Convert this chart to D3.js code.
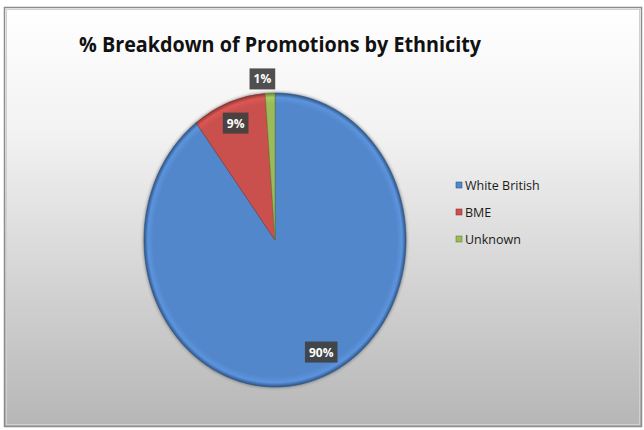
<!DOCTYPE html>
<html><head><meta charset="utf-8">
<script src="https://cdn.jsdelivr.net/npm/d3@7"></script>
<style>body{margin:0;background:#fff}</style>
</head><body>
<script>
const categories = ["White British", "BME", "Unknown"];
const values = [89.7, 9.1, 1.2];
const labels = ["90%", "9%", "1%"];
const colors = ["#5387cb", "#c9504d", "#9bbb59"];
const darkColors = ["#2f5587", "#8c3533", "#66802f"];

const W = 644, H = 430;
const svg = d3.select("body").append("svg").attr("width", W).attr("height", H);
const defs = svg.append("defs");
const bg = defs.append("linearGradient").attr("id","bg").attr("x1",0).attr("y1",0).attr("x2",0).attr("y2",1);
bg.append("stop").attr("offset","0%").attr("stop-color","#ffffff");
bg.append("stop").attr("offset","30%").attr("stop-color","#f2f2f2");
bg.append("stop").attr("offset","100%").attr("stop-color","#b6b6b6");

svg.append("rect").attr("x",0).attr("y",0).attr("width",W).attr("height",H).attr("fill","#fff");
svg.append("rect").attr("x",4.5).attr("y",7.5).attr("width",637).attr("height",419)
  .attr("fill","url(#bg)").attr("stroke","#8c8c8c").attr("stroke-width",1.5);
svg.append("rect").attr("x",6.5).attr("y",9.5).attr("width",633).attr("height",415)
  .attr("fill","none").attr("stroke","#d0d0d0").attr("stroke-width",1);

svg.append("text").attr("x",280).attr("y",52).attr("text-anchor","middle")
  .attr("font-family","Open Sans, sans-serif").attr("font-weight","bold").attr("font-size",22)
  .attr("fill","#111").attr("textLength",402).attr("lengthAdjust","spacingAndGlyphs")
  .text("% Breakdown of Promotions by Ethnicity");

const cx = 275, cy = 240, rx = 131, ry = 147;

colors.forEach((c,i)=>{
  const g = defs.append("radialGradient").attr("id","g"+i).attr("gradientUnits","userSpaceOnUse")
    .attr("cx",0).attr("cy",0).attr("r",rx);
  g.append("stop").attr("offset","0%").attr("stop-color",c);
  g.append("stop").attr("offset","93%").attr("stop-color",c);
  g.append("stop").attr("offset","97%").attr("stop-color",d3.color(c).brighter(0.25));
  g.append("stop").attr("offset","100%").attr("stop-color",darkColors[i]);
});
const blur = defs.append("filter").attr("id","sh").attr("x","-10%").attr("y","-10%").attr("width","120%").attr("height","120%");
blur.append("feGaussianBlur").attr("stdDeviation",1.5);

const pie = d3.pie().sort(null).value(d=>d)(values);
const arc = d3.arc().innerRadius(0).outerRadius(rx);
const pg = svg.append("g").attr("transform",`translate(${cx},${cy}) scale(1,${ry/rx})`);
pg.append("ellipse").attr("cx",0).attr("cy",0).attr("rx",rx+1).attr("ry",rx+1)
  .attr("fill","#333").attr("opacity",0.45).attr("filter","url(#sh)");
pg.selectAll("path.s").data(pie).join("path").attr("class","s")
  .attr("d",arc)
  .attr("fill",(d,i)=>`url(#g${i})`)
  .attr("stroke",(d,i)=>darkColors[i]).attr("stroke-width",0.7).attr("stroke-opacity",0.8);

// data labels: [angle offset (rad), radius factor]
const labelAdj = [[-0.11, 0.84], [0, 0.85], [-0.05, 1.10]];
const lg = svg.append("g");
pie.forEach((d,i)=>{
  const a = (d.startAngle+d.endAngle)/2 + labelAdj[i][0];
  const r = labelAdj[i][1];
  const x = cx + Math.sin(a)*rx*r, y = cy - Math.cos(a)*ry*r;
  const t = lg.append("text").attr("x",x).attr("y",y+4.5).attr("text-anchor","middle")
    .attr("font-family","Open Sans, sans-serif").attr("font-weight","bold").attr("font-size",12)
    .attr("fill","#fff").text(labels[i]);
  const w = t.node().getComputedTextLength()+8, h = 21;
  lg.insert("rect","text").attr("x",x-w/2).attr("y",y-h/2).attr("width",w).attr("height",h)
    .attr("fill","#404040").attr("opacity",0.92);
});

// legend
const leg = svg.append("g").attr("transform","translate(456,186)");
categories.forEach((c,i)=>{
  const y = i*27;
  leg.append("rect").attr("x",0).attr("y",y-4).attr("width",6).attr("height",6)
    .attr("fill",colors[i]).attr("stroke",darkColors[i]).attr("stroke-width",0.6);
  leg.append("text").attr("x",9).attr("y",y+4).attr("font-family","Open Sans, sans-serif")
    .attr("font-size",12.5).attr("fill","#1a1a1a").text(c);
});
</script>
</body></html>
